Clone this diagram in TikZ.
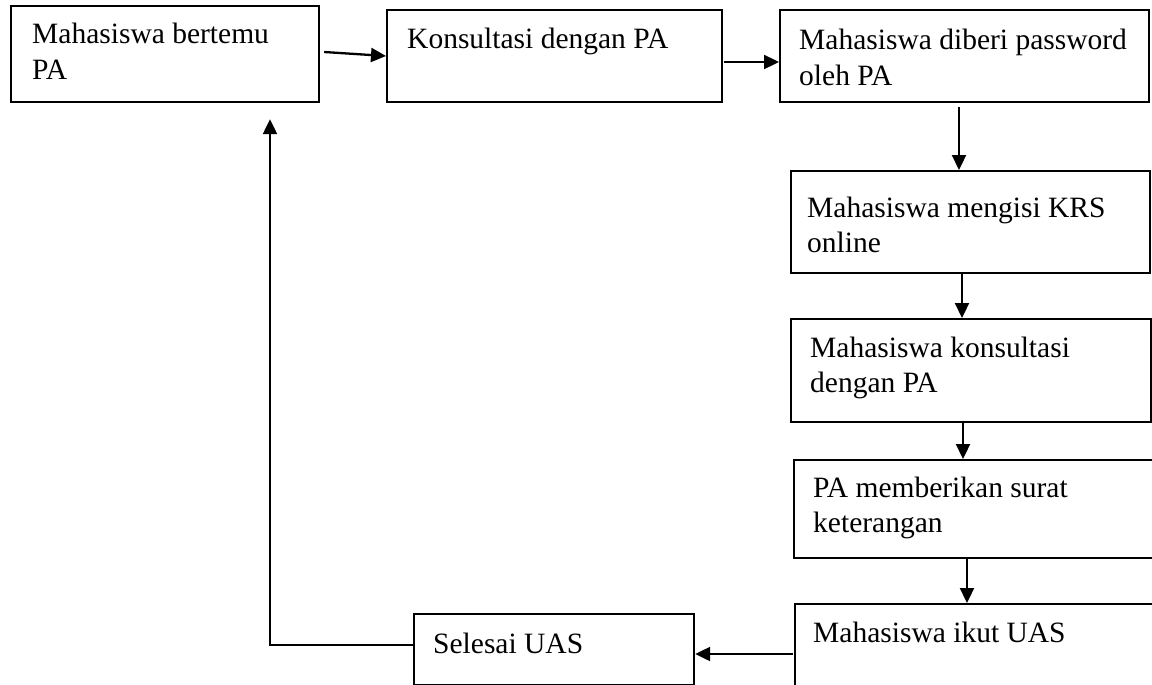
\documentclass[tikz,border=0pt]{standalone}
\usepackage{fontspec}
\setmainfont{Liberation Serif}
\usetikzlibrary{arrows.meta,calc}
\begin{document}
\begin{tikzpicture}[x=1pt,y=-1pt,
  stepbox/.style={draw,rectangle,line width=2.2pt,inner sep=0pt,anchor=north west},
  boxtext/.style={inner sep=0pt,anchor=north west,align=left,font=\fontsize{29.5}{35.5}\selectfont},
  flow/.style={line width=2.3pt,-{Triangle[length=15pt,width=14pt]}}]
\useasboundingbox (0,0) rectangle (1152,685);
\clip (0,0) rectangle (1152,685);

% process boxes
\node[stepbox,minimum width=308,minimum height=96]  (b1) at (10,5) {};
\node[stepbox,minimum width=335,minimum height=92]  (b2) at (386,9) {};
\node[stepbox,minimum width=369,minimum height=92]  (b3) at (779,9) {};
\node[stepbox,minimum width=359,minimum height=102] (b4) at (790,170) {};
\node[stepbox,minimum width=360,minimum height=103] (b5) at (790,318) {};
\node[stepbox,minimum width=380,minimum height=98]  (b6) at (793,459) {};
\node[stepbox,minimum width=380,minimum height=120] (b7) at (794,603) {};
\node[stepbox,minimum width=280,minimum height=71]  (b8) at (413,613) {};

% box texts
\node[boxtext] (t1) at (32,18.5)  {\strut Mahasiswa bertemu\\\strut PA};
\node[boxtext] (t2) at (407,23.5) {\strut Konsultasi dengan PA};
\node[boxtext] (t3) at (799,24.5) {\strut Mahasiswa diberi password\\\strut oleh PA};
\node[boxtext] (t4) at (807,192)  {\strut Mahasiswa mengisi KRS\\\strut online};
\node[boxtext] (t5) at (810,332)  {\strut Mahasiswa konsultasi\\\strut dengan PA};
\node[boxtext] (t6) at (813,472)  {\strut PA memberikan surat\\\strut keterangan};
\node[boxtext] (t7) at (813,617)  {\strut Mahasiswa ikut UAS};
\node[boxtext] (t8) at (433,628)  {\strut Selesai UAS};

% connectors
\draw[flow] ($(b1.north east)+(4,47)$) -- ($(b2.north west)+(0,47)$);
\draw[flow] ($(b2.north east)+(1,53)$) -- ($(b3.north west)+(0,53)$);
\draw[flow] ($(b3.south west)+(180,4)$) -- ($(b4.north west)+(169,0)$);
\draw[flow] ($(b4.south west)+(172,0)$) -- ($(b5.north west)+(172,0)$);
\draw[flow] ($(b5.south west)+(173,0)$) -- ($(b6.north west)+(170,0)$);
\draw[flow] ($(b6.south west)+(174,0)$) -- ($(b7.north west)+(173,0)$);
\draw[flow] ($(b7.north west)+(-1,51)$) -- ($(b8.north east)+(0,41)$);
\draw[flow] ($(b8.north west)+(0,32)$) -| ($(b1.south west)+(260,16)$);
\end{tikzpicture}
\end{document}
